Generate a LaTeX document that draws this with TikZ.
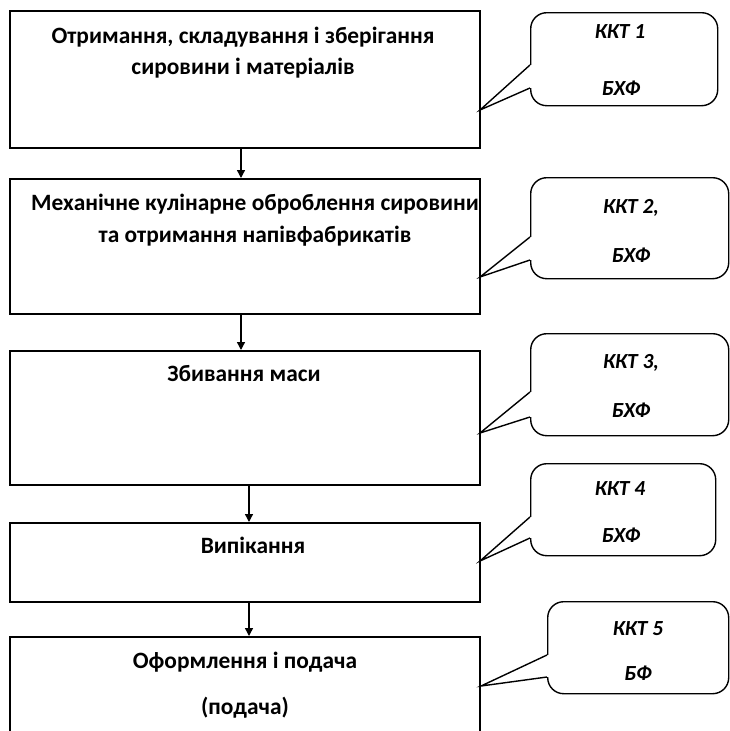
\documentclass[tikz,border=0pt]{standalone}
\usepackage{fontspec}
\setmainfont{Carlito}
\usetikzlibrary{arrows.meta}
\tikzset{
  stagebox/.style={draw=black, line width=2pt, fill=white, inner sep=0pt, anchor=north west},
  calloutbox/.style={draw=black, line width=1.4pt, fill=white, rounded corners=16pt, inner sep=0pt, anchor=north west},
  pointerline/.style={draw=black, line width=1.4pt, line join=miter},
  flowarrow/.style={draw=black, line width=1.4pt, -{Triangle[length=8pt,width=8pt]}},
  stagetext/.style={font=\bfseries\fontsize{23.4}{28}\selectfont, anchor=base, inner sep=0pt},
  callouttext/.style={font=\bfseries\itshape\fontsize{21.5}{26}\selectfont, anchor=base, inner sep=0pt},
}
\begin{document}
\begin{tikzpicture}[x=1pt,y=-1pt]
\clip (0,0) rectangle (730,731);
\fill[white] (0,0) rectangle (730,731);

% stage boxes
\node[stagebox, minimum width=470pt, minimum height=137pt] (b1) at (9,10) {};
\node[stagebox, minimum width=470pt, minimum height=135pt] (b2) at (9,178) {};
\node[stagebox, minimum width=470pt, minimum height=134pt] (b3) at (9,350) {};
\node[stagebox, minimum width=470pt, minimum height=79pt] (b4) at (9,522) {};
\node[stagebox, minimum width=470pt, minimum height=120pt] (b5) at (9,636) {};

% stage texts
\node[stagetext] (t1a) at (243,43) {Отримання, складування і зберігання};
\node[stagetext] (t1b) at (243,74) {сировини і матеріалів};
\node[stagetext] (t2a) at (255,210) {Механічне кулінарне оброблення сировини};
\node[stagetext] (t2b) at (255,242) {та отримання напівфабрикатів};
\node[stagetext] (t3) at (244,381) {Збивання маси};
\node[stagetext] (t4) at (253,553) {Випікання};
\node[stagetext] (t5a) at (245,668) {Оформлення і подача};
\node[stagetext] (t5b) at (245,714) {(подача)};

% arrows between stages
\draw[flowarrow] ([xshift=-4pt]b1.south) -- ([xshift=-4pt]b2.north);
\draw[flowarrow] ([xshift=-4pt]b2.south) -- ([xshift=-4pt]b3.north);
\draw[flowarrow] ([xshift=4pt]b3.south) -- ([xshift=4pt]b4.north);
\draw[flowarrow] ([xshift=4pt]b4.south) -- ([xshift=4pt]b5.north);

% callouts
\node[calloutbox, minimum width=187pt, minimum height=93pt] (k1) at (530,12) {};
\node[calloutbox, minimum width=198pt, minimum height=101pt] (k2) at (530,177) {};
\node[calloutbox, minimum width=198pt, minimum height=102pt] (k3) at (530,333) {};
\node[calloutbox, minimum width=185pt, minimum height=92pt] (k4) at (530,463) {};
\node[calloutbox, minimum width=181pt, minimum height=92pt] (k5) at (547,601) {};

% pointer tips on the boxes
\coordinate (p1) at (480,110);
\coordinate (p2) at (480,277);
\coordinate (p3) at (480,433);
\coordinate (p4) at (480,561);
\coordinate (p5) at (481,686);

% pointer bases
\coordinate (u1) at (530,65);  \coordinate (l1) at (530,88);
\coordinate (u2) at (530,237); \coordinate (l2) at (530,260);
\coordinate (u3) at (530,392); \coordinate (l3) at (530,417);
\coordinate (u4) at (530,517); \coordinate (l4) at (530,538);
\coordinate (u5) at (547,655); \coordinate (l5) at (547,677);

\foreach \i in {1,...,5}{
  \fill[white] ([xshift=-1.5pt]u\i) rectangle ([xshift=1.5pt]l\i);
  \draw[pointerline] (u\i) -- (p\i) -- (l\i);
}

% callout texts
\node[callouttext] (c1a) at (620,38) {ККТ 1};
\node[callouttext] (c1b) at (621,95) {БХФ};
\node[callouttext] (c2a) at (631,213) {ККТ 2,};
\node[callouttext] (c2b) at (631,262) {БХФ};
\node[callouttext] (c3a) at (631,368) {ККТ 3,};
\node[callouttext] (c3b) at (631,417) {БХФ};
\node[callouttext] (c4a) at (620,495) {ККТ 4};
\node[callouttext] (c4b) at (621,542) {БХФ};
\node[callouttext] (c5a) at (638,635) {ККТ 5};
\node[callouttext] (c5b) at (638,680) {БФ};
\end{tikzpicture}
\end{document}
